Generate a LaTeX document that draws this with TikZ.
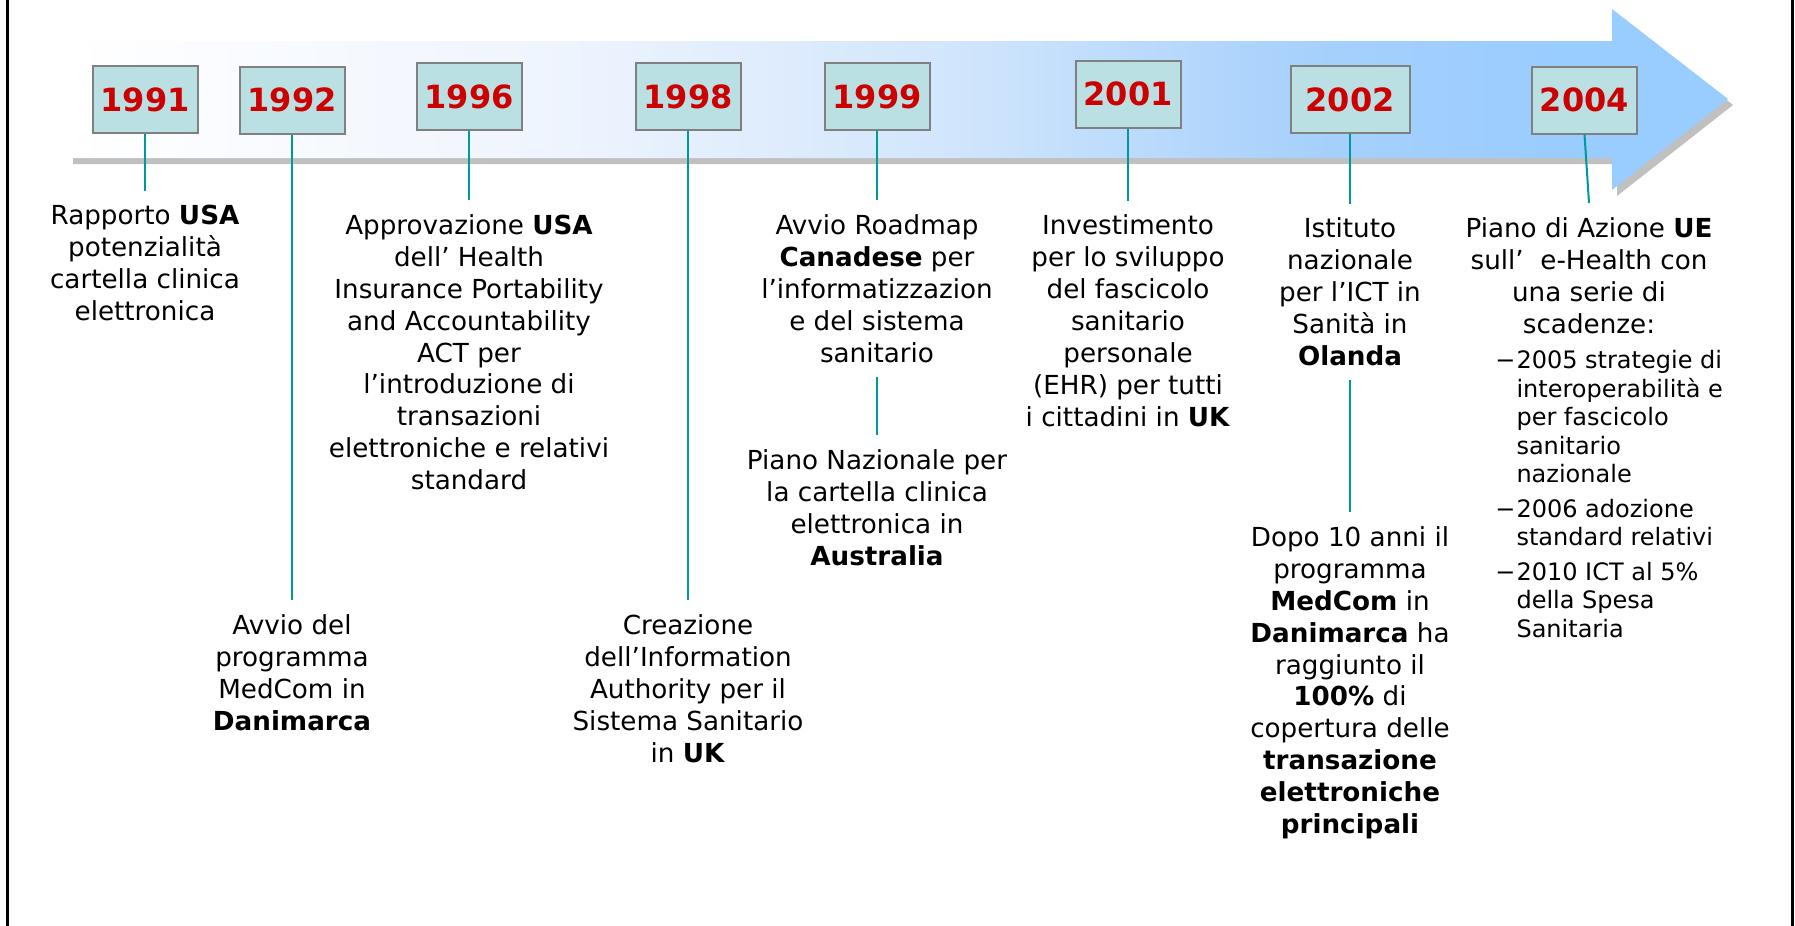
\documentclass[tikz,border=0pt]{standalone}
\usepackage{fontspec}
\setmainfont{DejaVu Sans}

\definecolor{yearfill}{HTML}{BBE0E3}
\definecolor{yearline}{HTML}{808080}
\definecolor{yearred}{HTML}{CC0000}
\definecolor{stemteal}{HTML}{009999}
\definecolor{arrowpale}{HTML}{EEF4FE}
\definecolor{arrowmid}{HTML}{D0E5FC}
\definecolor{arrowlite}{HTML}{A8D1FC}
\definecolor{arrowblue}{HTML}{99CCFF}
\definecolor{shadowgray}{HTML}{C0C0C0}

\pgfdeclarehorizontalshading{arrowfade}{100bp}{color(0bp)=(white); color(25bp)=(white); color(40bp)=(arrowpale); color(52bp)=(arrowmid); color(62bp)=(arrowlite); color(70bp)=(arrowblue); color(100bp)=(arrowblue)}

\tikzset{
  yearbox/.style={draw=yearline, line width=1pt, fill=yearfill, minimum width=52.5pt, minimum height=33.5pt, inner sep=0pt, text=yearred, font=\fontsize{16}{19}\selectfont\bfseries},
  eventtext/.style={align=center, anchor=north, inner sep=0pt, outer sep=7.25pt, font=\fontsize{13.1}{15.95}\selectfont},
  listtext/.style={anchor=north west, inner sep=0pt, font=\fontsize{12}{14.25}\selectfont},
  stem/.style={draw=stemteal, line width=1pt}
}

\begin{document}
\begin{tikzpicture}[x=0.5pt,y=-0.5pt]
\useasboundingbox (0,0) rectangle (1795,926);

\draw[line width=1.5pt] (7,0) -- (7,926);
\draw[line width=1.5pt] (1792,0) -- (1792,926);

\fill[shadowgray] (73,47) -- (1617,47) -- (1617,15) -- (1733,105) -- (1617,196) -- (1617,164) -- (73,164) -- cycle;
\shade[shading=arrowfade] (68,41) -- (1612,41) -- (1612,9) -- (1728,99) -- (1612,190) -- (1612,158) -- (68,158) -- cycle;

\node (y1991) at (145,99.5) [yearbox] {1991};
\node (y1992) at (292,100) [yearbox] {1992};
\node (y1996) at (469,96.5) [yearbox] {1996};
\node (y1998) at (688,96.5) [yearbox] {1998};
\node (y1999) at (877,96.5) [yearbox] {1999};
\node (y2001) at (1128,94) [yearbox] {2001};
\node (y2002) at (1350,99.5) [yearbox, minimum width=59.5pt] {2002};
\node (y2004) at (1584.5,100) [yearbox] {2004};

\node (t1991) at (145,191) [eventtext] {Rapporto \textbf{USA}\\potenzialità\\cartella clinica\\elettronica};
\node (t1992) at (292,600) [eventtext] {Avvio del\\programma\\MedCom in\\\textbf{Danimarca}};
\node (t1996) at (469,200) [eventtext] {Approvazione \textbf{USA}\\dell’ Health\\Insurance Portability\\and Accountability\\ACT per\\l’introduzione di\\transazioni\\elettroniche e relativi\\standard};
\node (t1998) at (688,600) [eventtext] {Creazione\\dell’Information\\Authority per il\\Sistema Sanitario\\in \textbf{UK}};
\node (t1999a) at (877,200) [eventtext] {Avvio Roadmap\\\textbf{Canadese} per\\l’informatizzazion\\e del sistema\\sanitario};
\node (t1999b) at (877,435) [eventtext] {Piano Nazionale per\\la cartella clinica\\elettronica in\\\textbf{Australia}};
\node (t2001) at (1128,200.5) [eventtext] {Investimento\\per lo sviluppo\\del fascicolo\\sanitario\\personale\\(EHR) per tutti\\i cittadini in \textbf{UK}};
\node (t2002a) at (1350,203.5) [eventtext] {Istituto\\nazionale\\per l’ICT in\\Sanità in\\\textbf{Olanda}};
\node (t2002b) at (1350,512) [eventtext] {Dopo 10 anni il\\programma\\\textbf{MedCom} in\\\textbf{Danimarca} ha\\raggiunto il\\\textbf{100\%} di\\copertura delle\\\textbf{transazione}\\\textbf{elettroniche}\\\textbf{principali}};
\node (t2004) at (1589,203) [eventtext] {Piano di Azione \textbf{UE}\\sull’~ e-Health con\\una serie di\\scadenze:};
\node (l2004) at (1495,348.6) [listtext] {%
\begin{tabular}{@{}l@{\hspace{0.5pt}}l@{}}
−&2005 strategie di\\
 &interoperabilità e\\
 &per fascicolo\\
 &sanitario\\
 &nazionale\\[3pt]
−&2006 adozione\\
 &standard relativi\\[3pt]
−&2010 ICT al 5\%\\
 &della Spesa\\
 &Sanitaria
\end{tabular}};

\draw[stem] (y1991.south) -- (t1991.north);
\draw[stem] (y1992.south) -- (t1992.north);
\draw[stem] (y1996.south) -- (t1996.north);
\draw[stem] (y1998.south) -- (t1998.north);
\draw[stem] (y1999.south) -- (t1999a.north);
\draw[stem] (t1999a.south) -- (t1999b.north);
\draw[stem] (y2001.south) -- (t2001.north);
\draw[stem] (y2002.south) -- (t2002a.north);
\draw[stem] (t2002a.south) -- (t2002b.north);
\draw[stem] (y2004.south) -- (t2004.north);
\end{tikzpicture}
\end{document}
